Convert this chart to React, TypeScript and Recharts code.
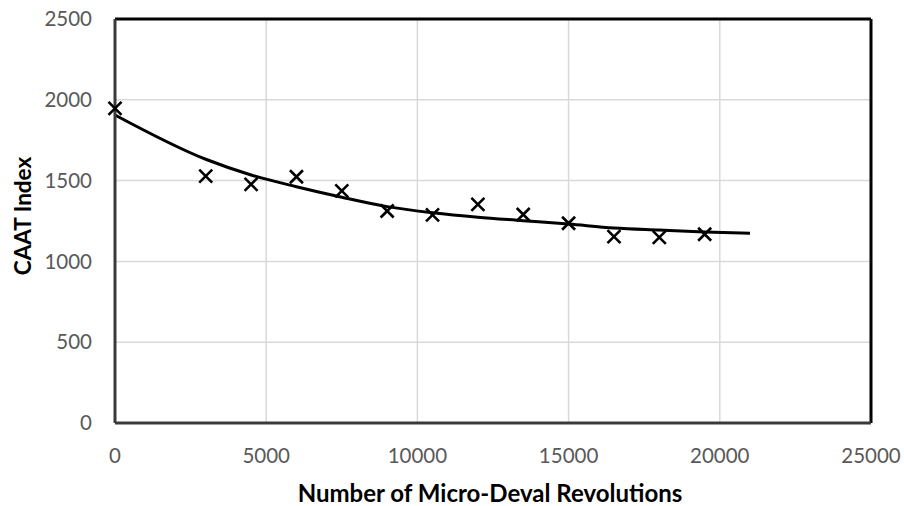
import {
  ComposedChart,
  Line,
  Scatter,
  XAxis,
  YAxis,
  CartesianGrid,
  ReferenceLine,
  Label,
} from 'recharts';

// measured CAAT index at each revolution count
const revolutions = [0, 3000, 4500, 6000, 7500, 9000, 10500, 12000, 13500, 15000, 16500, 18000, 19500];
const caatIndex = [1947, 1528, 1477, 1524, 1436, 1312, 1288, 1353, 1290, 1236, 1153, 1149, 1168];

// fitted trend line
const trendRevolutions = [0, 3000, 4500, 6000, 7500, 9000, 10500, 12000, 13500, 15000, 16500, 18000, 19500, 21000];
const trendIndex = [1906, 1632, 1535, 1462, 1397, 1339, 1301, 1273, 1252, 1231, 1207, 1194, 1182, 1174];

const xTicks = [0, 5000, 10000, 15000, 20000, 25000];
const yTicks = [0, 500, 1000, 1500, 2000, 2500];

const measured = revolutions.map((x, i) => ({ x, y: caatIndex[i] }));
const trend = trendRevolutions.map((x, i) => ({ x, y: trendIndex[i] }));

const FONT = 'Lato, "Open Sans", sans-serif';

function Cross(props: any) {
  const { cx, cy } = props;
  const s = 6.5;
  return (
    <path
      d={`M${cx - s},${cy - s}L${cx + s},${cy + s}M${cx - s},${cy + s}L${cx + s},${cy - s}`}
      stroke="#000"
      strokeWidth={2.6}
      fill="none"
    />
  );
}

function YTitle(props: any) {
  const vb = props.viewBox;
  const cy = vb.y + vb.height / 2 - 5;
  const x = 22;
  return (
    <text
      x={x}
      y={cy}
      transform={`rotate(-90, ${x}, ${cy})`}
      textAnchor="middle"
      dominantBaseline="central"
      fontFamily={FONT}
      fontWeight={700}
      fontSize={22.5}
      fill="#000"
    >
      CAAT Index
    </text>
  );
}

export default function App() {
  return (
    <div style={{ position: 'absolute', left: 0, top: 0, width: 904, height: 506, background: '#fff' }}>
      <ComposedChart
        width={904}
        height={506}
        margin={{ top: 19, right: 33, bottom: 0, left: 0 }}
      >
        <CartesianGrid stroke="#d9d9d9" strokeWidth={1.5} />
        <XAxis
          type="number"
          dataKey="x"
          domain={[0, 25000]}
          ticks={xTicks}
          height={83}
          tickLine={false}
          tickMargin={19}
          axisLine={{ stroke: '#3a3a3a', strokeWidth: 3 }}
          tick={{ fill: '#595959', fontSize: 20.5, fontFamily: FONT }}
        >
          <Label
            value="Number of Micro-Deval Revolutions"
            position="insideBottom"
            offset={4}
            dx={-3}
            fill="#000"
            fontFamily={FONT}
            fontWeight={700}
            fontSize={24}
          />
        </XAxis>
        <YAxis
          type="number"
          dataKey="y"
          domain={[0, 2500]}
          ticks={yTicks}
          width={115}
          tickLine={false}
          tickMargin={17}
          axisLine={{ stroke: '#3a3a3a', strokeWidth: 3 }}
          tick={{ fill: '#595959', fontSize: 20.5, fontFamily: FONT }}
        >
          <Label content={<YTitle />} />
        </YAxis>
        <ReferenceLine y={2500} stroke="#000" strokeWidth={3} />
        <ReferenceLine x={25000} stroke="#000" strokeWidth={3} />
        <Line
          data={trend}
          dataKey="y"
          type="monotone"
          stroke="#000"
          strokeWidth={3}
          dot={false}
          isAnimationActive={false}
        />
        <Scatter
          data={measured}
          dataKey="y"
          shape={<Cross />}
          isAnimationActive={false}
        />
      </ComposedChart>
    </div>
  );
}
